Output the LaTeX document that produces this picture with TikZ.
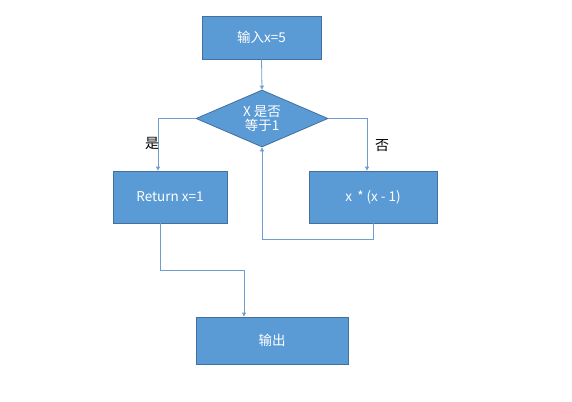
\documentclass[tikz,border=0pt]{standalone}
\usepackage{fontspec}
\setmainfont{Noto Sans CJK SC}
\usetikzlibrary{shapes.geometric,arrows.meta}
\definecolor{boxfill}{HTML}{5B9BD5}
\definecolor{boxline}{HTML}{41719C}
\definecolor{linkc}{HTML}{6F9DD0}
\begin{document}
\begin{tikzpicture}[x=1pt,y=-1pt,
  box/.style={draw=boxline,fill=boxfill,line width=0.8pt,text=white,font=\fontsize{13.5}{15}\selectfont,inner sep=0pt},
  link/.style={draw=linkc,line width=0.8pt,-{Triangle[length=4pt,width=4pt]}},
  lab/.style={font=\fontsize{14}{16}\selectfont,text=black}]
\useasboundingbox[fill=white] (0,0) rectangle (572,401);
\node[box,minimum width=119pt,minimum height=43pt] (in) at (261.5,37.5) {输入x=5};
\node[box,diamond,aspect=2.3,minimum width=132pt,minimum height=57pt,align=center,font=\fontsize{13.5}{14}\selectfont] (dec) at (262,118.5) {X 是否\\等于1};
\node[box,minimum width=114pt,minimum height=52pt] (ret) at (170,197) {Return x=1};
\node[box,minimum width=128pt,minimum height=52pt] (mul) at (373,197) {x \,* (x - 1)};
\node[box,minimum width=152pt,minimum height=47pt] (out) at (272,340.5) {输出};
\coordinate (tl) at (158,118.5);
\coordinate (tr) at (367,118.5);
\coordinate (lb) at (160,270);
\coordinate (lr) at (244,270);
\coordinate (mb) at (373,239);
\coordinate (ml) at (262,239);
\draw[link] (in.south) -- (dec.north);
\draw[link] (dec.west) -- (tl) -- (ret.north -| tl);
\draw[link] (dec.east) -- (tr) -- (mul.north -| tr);
\draw[link] (mul.south) -- (mb) -- (ml) -- (dec.south);
\draw[link] (ret.south -| lb) -- (lb) -- (lr) -- (out.north -| lr);
\node[lab] (yes) at (152,143) {是};
\node[lab] (no) at (382,146) {否};
\end{tikzpicture}
\end{document}
